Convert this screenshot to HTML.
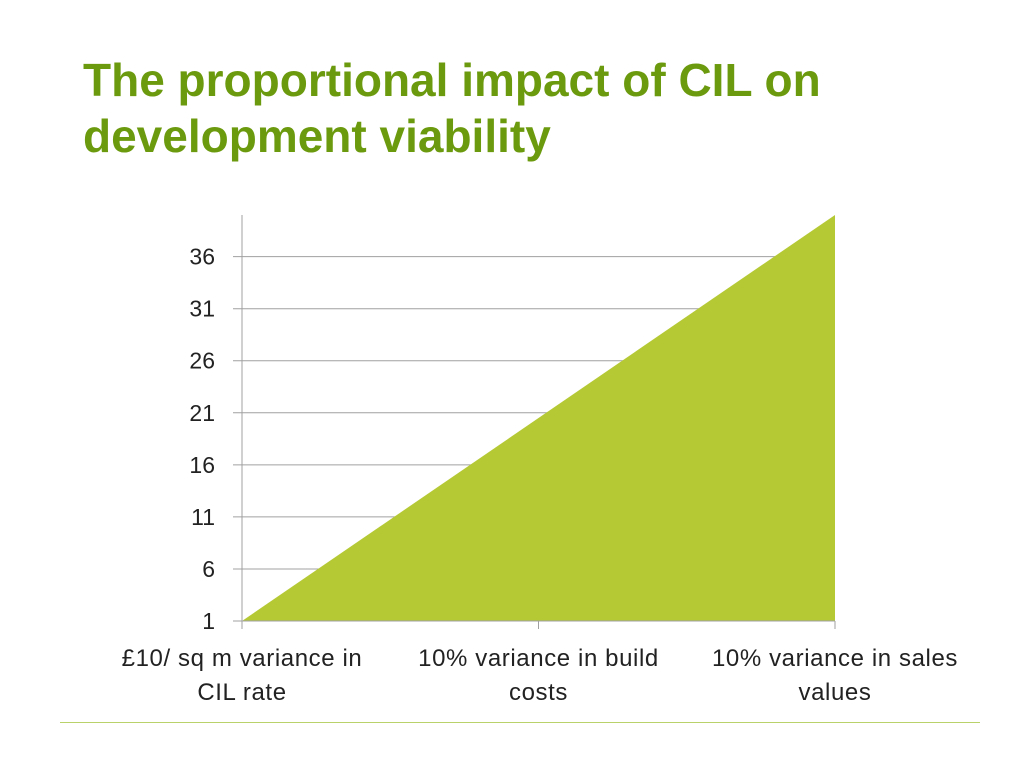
<!DOCTYPE html>
<html><head><meta charset="utf-8"><style>
body{margin:0;width:1024px;height:768px;background:#fff;overflow:hidden;position:relative;font-family:"Liberation Sans",sans-serif}
#title{position:absolute;left:83px;top:52px;font-size:46px;font-weight:bold;color:#6c9a0e;line-height:56px;margin:0;letter-spacing:0px}
#rule{position:absolute;left:60px;top:722px;width:920px;height:1px;background:#b9d36a}
svg{position:absolute;left:0;top:0}
text{font-family:"Liberation Sans",sans-serif;font-size:23px;fill:#222}
text.xl{font-size:24px;letter-spacing:0.6px}
</style></head><body>
<h1 id="title">The proportional impact of CIL on<br>development viability</h1>
<div id="rule"></div>
<svg id="chart" width="1024" height="768"></svg>
<script>
const categories=["£10/ sq m variance in|CIL rate","10% variance in build|costs","10% variance in sales|values"];
const values=[1,20.5,40];
const yTicks=[1,6,11,16,21,26,31,36];
const yMin=1,yMax=40;
const x0=242,x1=835,yB=621,yT=215;
const ns="http://www.w3.org/2000/svg";
const svg=document.getElementById('chart');
function X(i){return x0+(x1-x0)*i/(categories.length-1);}
function Y(v){return yB-(v-yMin)/(yMax-yMin)*(yB-yT);}
function mk(t,a){const e=document.createElementNS(ns,t);for(const k in a)e.setAttribute(k,a[k]);svg.appendChild(e);return e;}
yTicks.forEach(v=>{
 const g=mk('line',{x1:233,x2:x1,y1:Y(v),y2:Y(v),stroke:'#a0a0a0','stroke-width':1});
 
 
 const t=mk('text',{x:215,y:Y(v)+8,'text-anchor':'end'});t.textContent=v;
 
 
});
let d='M'+X(0)+','+Y(yMin);
values.forEach((v,i)=>{d+=' L'+X(i)+','+Y(v);});
d+=' L'+X(values.length-1)+','+Y(yMin)+' Z';
const area=mk('path',{d:d,fill:'#b5c934'});


const ya=mk('line',{x1:x0,x2:x0,y1:yT,y2:629,stroke:'#a0a0a0'});


const xa=mk('line',{x1:x0,x2:x1,y1:yB,y2:yB,stroke:'#a0a0a0'});


categories.forEach((c,i)=>{
 const tk=mk('line',{x1:X(i),x2:X(i),y1:yB,y2:629,stroke:'#a0a0a0'});
 
 
 c.split('|').forEach((s,j)=>{
  const t=mk('text',{x:X(i),y:666+j*34,'text-anchor':'middle','class':'xl'});t.textContent=s;
  
  
 });
});
</script>
</body></html>
